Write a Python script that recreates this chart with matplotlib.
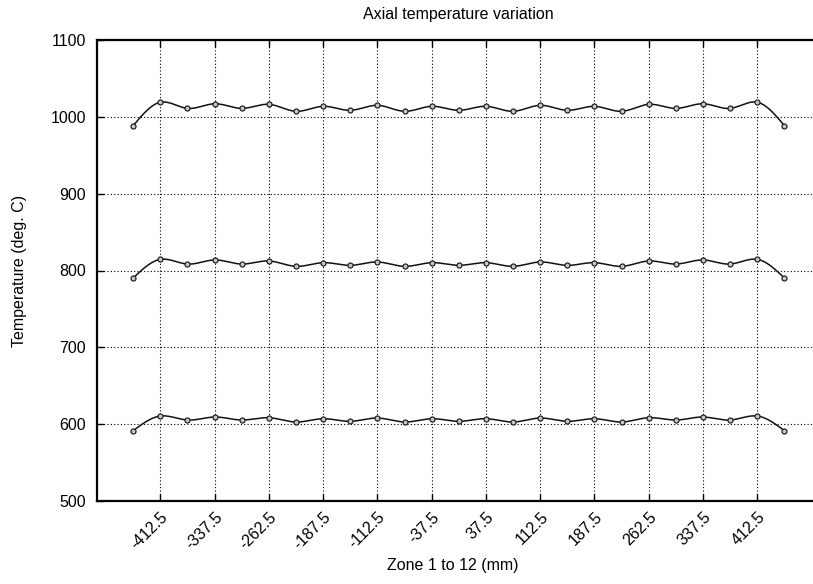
import numpy as np
import matplotlib
matplotlib.use("Agg")
import matplotlib.pyplot as plt

# zone positions (mm), one point every 37.5 mm
pos = np.arange(-450, 450.1, 37.5)

half_top = [988.5, 1019, 1011, 1017, 1011, 1016.3, 1007.2, 1013.7, 1008.5, 1015, 1007.2, 1013.7, 1008.5]
half_mid = [790.2, 814.5, 808.4, 813.7, 808.4, 812.4, 805.4, 810.2, 806.7, 811.1, 805.4, 810.2, 806.7]
half_low = [591.5, 610.6, 605.4, 609.3, 605.4, 608.4, 602.8, 607.1, 603.7, 608.0, 602.8, 607.1, 603.7]

# profiles are symmetric about the centre zone
temp_1000 = half_top + half_top[-2::-1]
temp_800 = half_mid + half_mid[-2::-1]
temp_600 = half_low + half_low[-2::-1]

xticks = np.arange(-412.5, 412.6, 75)
yticks = np.arange(500, 1101, 100)


def csplines(x, y, n=600):
    # natural cubic spline, like gnuplot "smooth csplines"
    x = np.asarray(x, float)
    y = np.asarray(y, float)
    m = len(x)
    h = np.diff(x)
    A = np.zeros((m, m))
    b = np.zeros(m)
    A[0, 0] = 1
    A[-1, -1] = 1
    for i in range(1, m - 1):
        A[i, i - 1] = h[i - 1]
        A[i, i] = 2 * (h[i - 1] + h[i])
        A[i, i + 1] = h[i]
        b[i] = 6 * ((y[i + 1] - y[i]) / h[i] - (y[i] - y[i - 1]) / h[i - 1])
    M = np.linalg.solve(A, b)
    xs = np.linspace(x[0], x[-1], n)
    k = np.clip(np.searchsorted(x, xs) - 1, 0, m - 2)
    t0 = x[k + 1] - xs
    t1 = xs - x[k]
    hk = h[k]
    ys = (M[k] * t0 ** 3 + M[k + 1] * t1 ** 3) / (6 * hk) \
        + (y[k] / hk - M[k] * hk / 6) * t0 + (y[k + 1] / hk - M[k + 1] * hk / 6) * t1
    return xs, ys


plt.rcParams['font.family'] = ['Liberation Sans', 'DejaVu Sans']

fig = plt.figure(figsize=(8.13, 5.84), dpi=100)
ax = fig.add_axes([97 / 813, 83 / 584, 723.6 / 813, 461 / 584])

for temps in (temp_1000, temp_800, temp_600):
    xs, ys = csplines(pos, temps)
    ax.plot(xs, ys, color='#111111', lw=1.1, zorder=3)
    ax.plot(pos, temps, 'o', ms=3.6, mfc='#c8c8c8', mec='#222222', mew=0.9, zorder=4)

ax.set_xlim(-500, 500)
ax.set_ylim(500, 1100)
ax.set_xticks(xticks)
ax.set_xticklabels([f"{v:g}" for v in xticks], rotation=45, ha='right', va='top',
                   rotation_mode='anchor', fontsize=11.5)
ax.set_yticks(yticks)
ax.grid(True, color='black', linestyle=(0, (1, 2)), linewidth=0.8)

ax.tick_params(axis='both', direction='in', length=5, width=1, labelsize=11.5,
               top=True, right=False)
ax.tick_params(axis='x', pad=6)
ax.tick_params(axis='y', pad=8)

for s in ('left', 'bottom', 'top'):
    ax.spines[s].set_linewidth(1.6)
ax.spines['right'].set_visible(False)

ax.set_title("Axial temperature variation", fontsize=11.5, pad=15)
ax.set_xlabel("Zone 1 to 12 (mm)", fontsize=11.5)
ax.xaxis.set_label_coords(0.492, -0.124)
ax.set_ylabel("Temperature (deg. C)", fontsize=11.5)
ax.yaxis.set_label_coords(-0.097, 0.5)

fig.savefig("out.png", dpi=100)
